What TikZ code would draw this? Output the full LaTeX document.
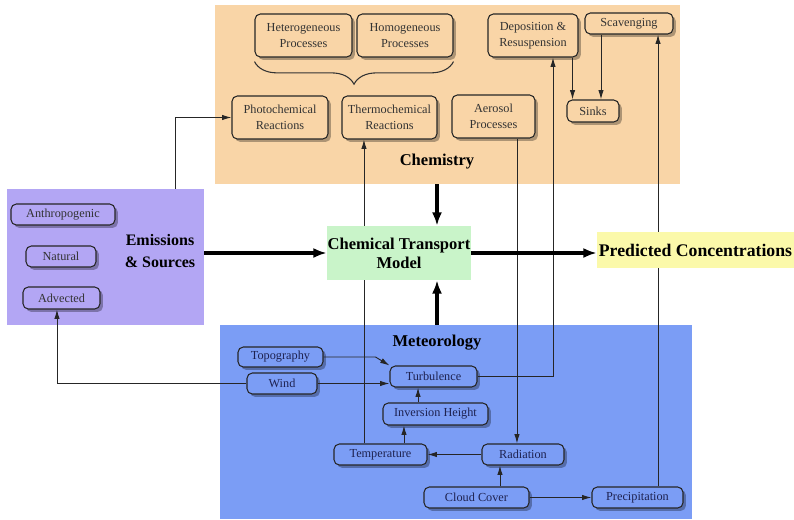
\documentclass[tikz,border=0pt]{standalone}
\usepackage{fontspec}
\setmainfont{Liberation Serif}
\usepackage{xcolor}
\usetikzlibrary{arrows.meta,shadows,decorations.pathreplacing,calc}

\definecolor{chemfill}{RGB}{249,213,167}
\definecolor{emisfill}{RGB}{179,166,244}
\definecolor{metfill}{RGB}{123,157,245}
\definecolor{ctmfill}{RGB}{201,244,201}
\definecolor{predfill}{RGB}{251,249,170}
\definecolor{metink}{RGB}{30,34,80}

\begin{document}
\begin{tikzpicture}[x=0.75pt,y=0.75pt,yscale=-1,xscale=1,
    region/.style={inner sep=0pt, draw=none},
    proc/.style={draw=black!85, line width=0.8pt, rounded corners=4pt, align=center, inner sep=1pt,
        font=\fontsize{9.2}{12}\selectfont,
        drop shadow={shadow xshift=2.2pt, shadow yshift=-2.2pt, fill=black, opacity=0.3}},
    chembox/.style={proc, fill=chemfill, text=black!80},
    emisbox/.style={proc, fill=emisfill, text=black!80},
    metbox/.style={proc, fill=metfill, text=metink},
    heading/.style={font=\fontsize{12.4}{14.3}\selectfont\bfseries, align=center, inner sep=0pt},
    conn/.style={draw=black!85, line width=0.7pt, -{Latex[length=7pt,width=4pt]}},
    bigarrow/.style={draw=black, line width=2.4pt, -{Latex[length=10pt,width=7.5pt]}}
]
    \useasboundingbox (0,0) rectangle (794,519);

    %Shape: Rectangle [chemistry]
    \node[region, fill=chemfill, minimum width=348.75pt, minimum height=134.25pt] (chem) at (447.5,94.5) {};
    %Shape: Rectangle [emissions]
    \node[region, fill=emisfill, minimum width=147.75pt, minimum height=102pt] (emis) at (105.5,257) {};
    %Shape: Rectangle [meteorology]
    \node[region, fill=metfill, minimum width=354pt, minimum height=145.5pt] (met) at (456,422) {};

    % Text Node
    \node[heading] (chemlbl) at (437,162) {Chemistry};
    \node[heading] (metlbl) at (437,343) {Meteorology};
    \node[heading, font=\fontsize{12}{17}\selectfont\bfseries] (emislbl) at (160,251) {Emissions\\\& Sources};

    % Chemistry boxes
    \node[chembox, minimum width=72.75pt, minimum height=32.25pt] (hetero) at (303.5,35.5) {Heterogeneous\\Processes};
    \node[chembox, minimum width=72pt, minimum height=32.25pt] (homo) at (405,35.5) {Homogeneous\\Processes};
    \node[chembox, minimum width=72pt, minimum height=32.25pt] (photo) at (280,117.5) {Photochemical\\Reactions};
    \node[chembox, minimum width=71.25pt, minimum height=32.25pt] (thermo) at (389.5,117.5) {Thermochemical\\Reactions};
    \node[chembox, minimum width=62.25pt, minimum height=32.25pt] (aero) at (493.5,116.5) {Aerosol\\Processes};
    \node[chembox, minimum width=67.5pt, minimum height=32.25pt] (depos) at (533,35.5) {Deposition \&\\Resuspension};
    \node[chembox, minimum width=66pt, minimum height=15.75pt] (scav) at (629,23.5) {Scavenging};
    \node[chembox, minimum width=39pt, minimum height=16.5pt] (sinks) at (593,111) {Sinks};

    %Brace
    \draw[line width=0.8pt, black!80, decorate, decoration={brace, amplitude=17pt, mirror}] ([yshift=3pt]hetero.south west) -- ([yshift=3pt]homo.south east);

    % Emissions boxes
    \node[emisbox, minimum width=78pt, minimum height=15.75pt] (anthro) at (63,214.5) {Anthropogenic};
    \node[emisbox, minimum width=52.5pt, minimum height=15.75pt] (natural) at (61,256.5) {Natural};
    \node[emisbox, minimum width=57.75pt, minimum height=16.5pt] (adv) at (61.5,298) {Advected};

    % Meteorology boxes
    \node[metbox, minimum width=63.75pt, minimum height=15pt] (topo) at (280.5,357) {Topography};
    \node[metbox, minimum width=52.5pt, minimum height=15.75pt] (wind) at (282,383.5) {Wind};
    \node[metbox, minimum width=65.25pt, minimum height=15.75pt] (turb) at (433.5,376.5) {Turbulence};
    \node[metbox, minimum width=78.75pt, minimum height=16.5pt] (invh) at (435.5,414) {Inversion Height};
    \node[metbox, minimum width=69.75pt, minimum height=15.75pt] (temp) at (380.5,454.5) {Temperature};
    \node[metbox, minimum width=61.5pt, minimum height=15.75pt] (rad) at (523,454.5) {Radiation};
    \node[metbox, minimum width=78.75pt, minimum height=15.75pt] (cloud) at (476.5,497.5) {Cloud Cover};
    \node[metbox, minimum width=68.25pt, minimum height=15.75pt] (precip) at (637.5,497.5) {Precipitation};

    %Straight Lines
    \draw[conn] ([xshift=52.1pt]emis.north) |- (photo.west);
    \draw[conn] ([xshift=-4.5pt]depos.south east) -- ([xshift=-4.5pt]depos.south east |- sinks.north);
    \draw[conn] ([xshift=-21pt]scav.south) -- ([xshift=-21pt]scav.south |- sinks.north);
    \draw[conn] (turb.east) -| ([xshift=15pt]depos.south);
    \draw[conn] ([xshift=15.4pt]precip.north) -- ([xshift=15.4pt]precip.north |- scav.south);
    \draw[conn] ([xshift=-12.4pt]temp.north) -- ([xshift=-12.4pt]temp.north |- thermo.south);
    \draw[conn] ([xshift=17.6pt]aero.south) -- ([xshift=17.6pt]aero.south |- rad.north);
    \draw[conn] (topo.east) -- ++(52,0) -- (turb.north west);
    \draw[conn] (wind.east) -- (wind.east -| turb.west);
    \draw[conn] (wind.west) -| ([xshift=-3.4pt]adv.south);
    \draw[conn] ([xshift=-13.1pt]invh.north) -- ([xshift=-13.1pt]invh.north |- turb.south);
    \draw[conn] ([xshift=17.6pt]temp.north) -- ([xshift=17.6pt]temp.north |- invh.south);
    \draw[conn] (rad.west) -- (temp.east);
    \draw[conn] ([xshift=17.6pt]cloud.north) -- ([xshift=17.6pt]cloud.north |- rad.south);
    \draw[conn] (cloud.east) -- (precip.west);

    %Shape: Rectangle [model]
    \node[region, fill=ctmfill, minimum width=108pt, minimum height=40.5pt, heading] (ctm) at (399,253) {Chemical Transport\\Model};
    %Shape: Rectangle [output]
    \node[region, fill=predfill, minimum width=147.75pt, minimum height=27pt, heading, font=\fontsize{13.3}{15}\selectfont\bfseries] (pred) at (695.5,250) {Predicted Concentrations};

    %Thick Arrows
    \draw[bigarrow] (chemlbl |- chem.south) -- (chemlbl |- ctm.north);
    \draw[bigarrow] (metlbl |- met.north) -- (metlbl |- ctm.south);
    \draw[bigarrow] (emis.east |- ctm.west) -- (ctm.west);
    \draw[bigarrow] (ctm.east) -- (ctm.east -| pred.west);

\end{tikzpicture}
\end{document}
